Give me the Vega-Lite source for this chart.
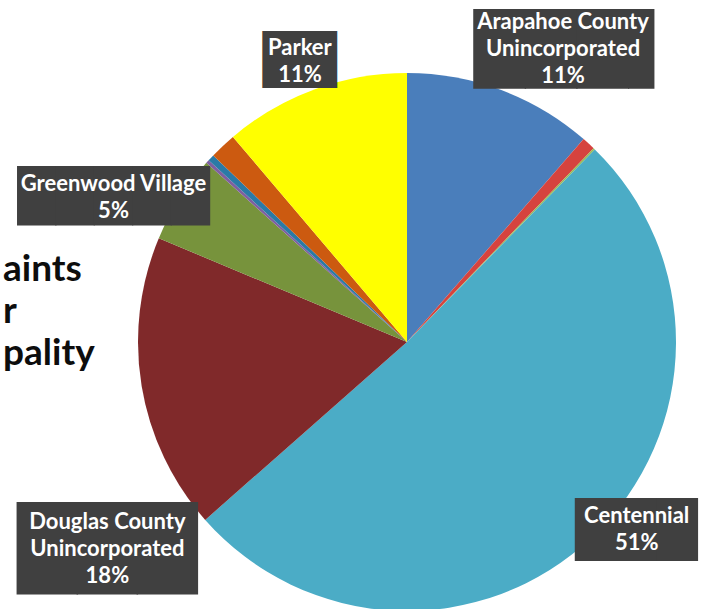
{
  "$schema": "https://vega.github.io/schema/vega-lite/v6.json",
  "width": 594,
  "height": 534,
  "autosize": {"type": "none"},
  "padding": {"left": 110, "top": 75, "right": 0, "bottom": 0},
  "background": "white",
  "config": {"view": {"stroke": null}},
  "title": {
    "text": ["aints", "r", "pality"],
    "orient": "top",
    "anchor": "start",
    "frame": "group",
    "align": "left",
    "baseline": "top",
    "font": "Lato",
    "fontSize": 37,
    "fontWeight": "bold",
    "color": "#0d0d0d",
    "lineHeight": 42,
    "offset": 0,
    "dx": -107,
    "dy": 363
  },
  "data": {
    "values": [
      {"idx": 1, "name": "Arapahoe County Unincorporated", "share": 11.4, "label": "Arapahoe County\nUnincorporated\n11%"},
      {"idx": 2, "name": "Other 1", "share": 0.8, "label": ""},
      {"idx": 3, "name": "Other 2", "share": 0.1, "label": ""},
      {"idx": 4, "name": "Centennial", "share": 51.2, "label": "Centennial\n51%"},
      {"idx": 5, "name": "Douglas County Unincorporated", "share": 17.8, "label": "Douglas County\nUnincorporated\n18%"},
      {"idx": 6, "name": "Greenwood Village", "share": 5.3, "label": "Greenwood Village\n5%"},
      {"idx": 7, "name": "Other 3", "share": 0.2, "label": ""},
      {"idx": 8, "name": "Other 4", "share": 0.4, "label": ""},
      {"idx": 9, "name": "Other 5", "share": 1.6, "label": ""},
      {"idx": 10, "name": "Parker", "share": 11.2, "label": "Parker\n11%"}
    ]
  },
  "encoding": {
    "theta": {"field": "share", "type": "quantitative", "stack": true},
    "order": {"field": "idx", "type": "quantitative"}
  },
  "layer": [
    {
      "mark": {"type": "arc", "outerRadius": 269, "strokeWidth": 0},
      "encoding": {
        "color": {
          "field": "name",
          "type": "nominal",
          "legend": null,
          "scale": {
            "domain": ["Arapahoe County Unincorporated", "Other 1", "Other 2", "Centennial", "Douglas County Unincorporated", "Greenwood Village", "Other 3", "Other 4", "Other 5", "Parker"],
            "range": ["#4a7ebb", "#d6433e", "#9bbb59", "#4bacc6", "#80292a", "#77933c", "#7f5fa0", "#2a7aa6", "#cc5a10", "#ffff00"]
          }
        }
      }
    },
    {
      "mark": {"type": "text", "radius": 302, "dx": -3, "dy": 3, "font": "DejaVu Sans", "fontSize": 48, "fill": "#404040", "align": "center", "baseline": "middle"},
      "encoding": {"text": {"condition": {"test": "datum.name === 'Parker'", "value": "██"}, "value": ""}}
    },
    {
      "mark": {"type": "text", "radius": 331, "dx": 54, "dy": 20, "font": "DejaVu Sans", "fontSize": 67, "fill": "#404040", "align": "center", "baseline": "middle"},
      "encoding": {"text": {"condition": {"test": "datum.name === 'Arapahoe County Unincorporated'", "value": "███▌"}, "value": ""}}
    },
    {
      "mark": {"type": "text", "radius": 297, "dx": 25, "dy": -25, "font": "DejaVu Sans", "fontSize": 53, "fill": "#404040", "align": "center", "baseline": "middle"},
      "encoding": {"text": {"condition": {"test": "datum.name === 'Centennial'", "value": "███"}, "value": ""}}
    },
    {
      "mark": {"type": "text", "radius": 330, "dx": 26, "dy": 156, "font": "DejaVu Sans", "fontSize": 78, "fill": "#404040", "align": "center", "baseline": "middle"},
      "encoding": {"text": {"condition": {"test": "datum.name === 'Douglas County Unincorporated'", "value": "███"}, "value": ""}}
    },
    {
      "mark": {"type": "text", "radius": 328, "dx": -16, "dy": 31, "font": "DejaVu Sans", "fontSize": 50, "fill": "#404040", "align": "center", "baseline": "middle"},
      "encoding": {"text": {"condition": {"test": "datum.name === 'Greenwood Village'", "value": "█████"}, "value": ""}}
    },
    {
      "mark": {"type": "text", "radius": 302, "dx": -3, "dy": -11, "font": "Lato", "fontSize": 22, "fontWeight": "bold", "fill": "white", "align": "center", "baseline": "middle", "lineBreak": "\n", "lineHeight": 27},
      "encoding": {"text": {"condition": {"test": "datum.name === 'Parker'", "field": "label"}, "value": ""}}
    },
    {
      "mark": {"type": "text", "radius": 331, "dx": 40, "dy": -10, "font": "Lato", "fontSize": 22, "fontWeight": "bold", "fill": "white", "align": "center", "baseline": "middle", "lineBreak": "\n", "lineHeight": 27},
      "encoding": {"text": {"condition": {"test": "datum.name === 'Arapahoe County Unincorporated'", "field": "label"}, "value": ""}}
    },
    {
      "mark": {"type": "text", "radius": 297, "dx": 25, "dy": -41, "font": "Lato", "fontSize": 22, "fontWeight": "bold", "fill": "white", "align": "center", "baseline": "middle", "lineBreak": "\n", "lineHeight": 27},
      "encoding": {"text": {"condition": {"test": "datum.name === 'Centennial'", "field": "label"}, "value": ""}}
    },
    {
      "mark": {"type": "text", "radius": 330, "dx": 26, "dy": 126, "font": "Lato", "fontSize": 22, "fontWeight": "bold", "fill": "white", "align": "center", "baseline": "middle", "lineBreak": "\n", "lineHeight": 27},
      "encoding": {"text": {"condition": {"test": "datum.name === 'Douglas County Unincorporated'", "field": "label"}, "value": ""}}
    },
    {
      "mark": {"type": "text", "radius": 328, "dx": -16, "dy": 17, "font": "Lato", "fontSize": 22, "fontWeight": "bold", "fill": "white", "align": "center", "baseline": "middle", "lineBreak": "\n", "lineHeight": 27},
      "encoding": {"text": {"condition": {"test": "datum.name === 'Greenwood Village'", "field": "label"}, "value": ""}}
    }
  ]
}
